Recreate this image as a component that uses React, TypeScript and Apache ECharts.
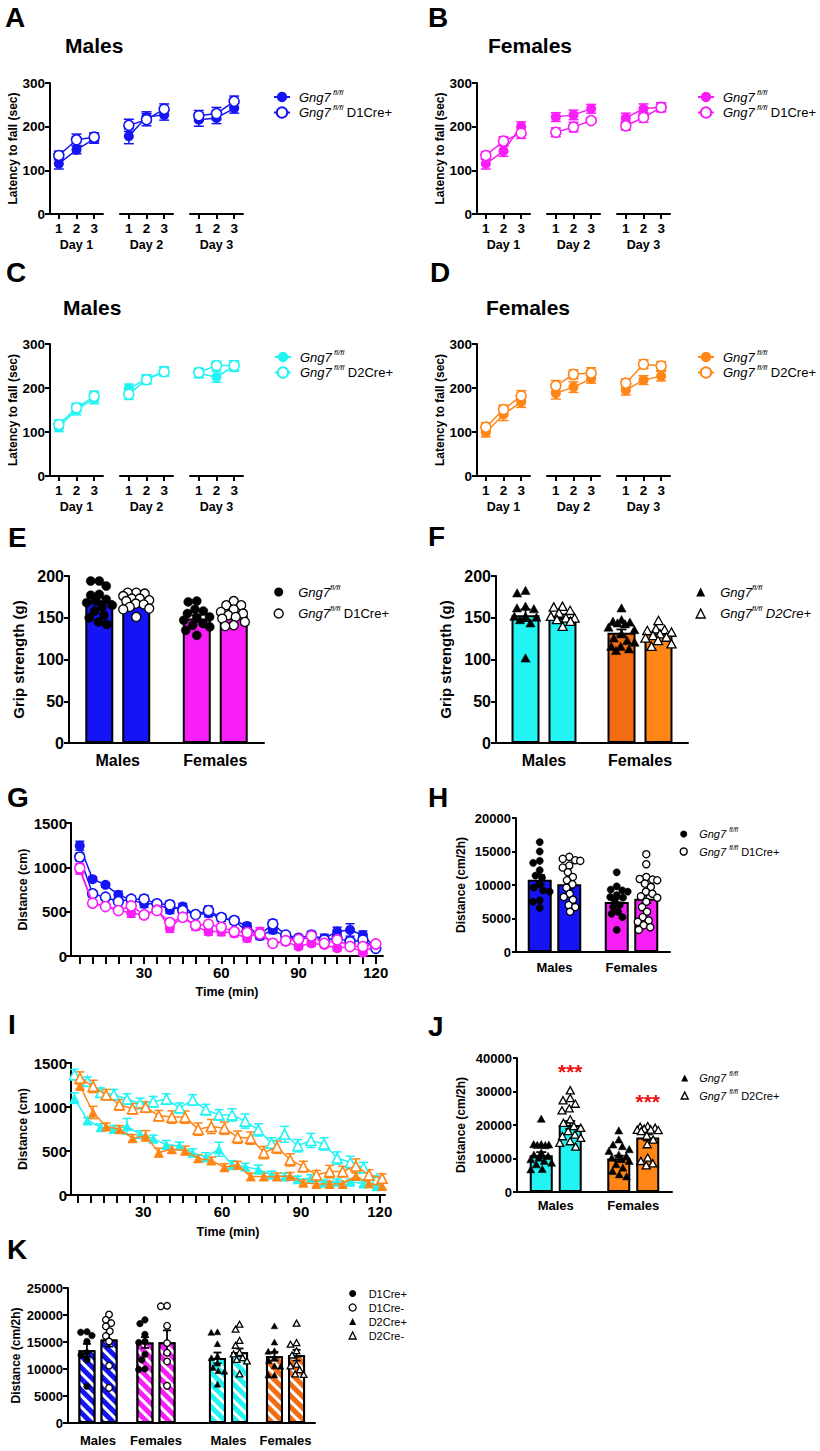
import React, { useEffect, useRef } from 'react';
import * as echarts from 'echarts';

const FONT = '"Liberation Sans", Arial, Helvetica, sans-serif';
const BLACK = '#000000';
const BLUE = '#1414f5';
const MAGENTA = '#f81ef8';
const CYAN = '#22f3f3';
const ORANGE = '#ff8616';
const ORANGE_DK = '#f26c14';
const RED = '#f01010';

// ---------- categories ----------
const TRIALS = ['1', '2', '3'];
const DAYS = ['Day 1', 'Day 2', 'Day 3'];
const SEXES = ['Males', 'Females'];
const TIMES = [5, 10, 15, 20, 25, 30, 35, 40, 45, 50, 55, 60, 65, 70, 75, 80, 85, 90, 95, 100, 105, 110, 115, 120];
const TIME_LABELS = [30, 60, 90, 120];

// ---------- A: rotarod, males, D1 (rows = days, cols = trials) ----------
const A_FL = [[115, 147, 172], [178, 222, 227], [216, 220, 242]];
const A_FL_SEM = [[12, 9, 10], [17, 12, 12], [15, 13, 11]];
const A_CRE = [[134, 170, 176], [203, 216, 240], [225, 230, 258]];
const A_CRE_SEM = [[10, 13, 10], [14, 14, 12], [12, 14, 12]];
// ---------- B: rotarod, females, D1 ----------
const B_FL = [[115, 144, 201], [222, 227, 241], [220, 241, 245]];
const B_FL_SEM = [[12, 12, 10], [10, 11, 10], [11, 11, 10]];
const B_CRE = [[134, 167, 185], [187, 199, 214], [202, 221, 244]];
const B_CRE_SEM = [[9, 10, 12], [10, 11, 6], [10, 11, 10]];
// ---------- C: rotarod, males, D2 ----------
const C_FL = [[111, 151, 176], [199, 220, 238], [233, 225, 250]];
const C_FL_SEM = [[10, 12, 12], [10, 10, 10], [10, 12, 12]];
const C_CRE = [[117, 155, 181], [186, 219, 237], [235, 251, 251]];
const C_CRE_SEM = [[10, 10, 12], [12, 10, 10], [10, 10, 10]];
// ---------- D: rotarod, females, D2 ----------
const D_FL = [[99, 140, 168], [188, 202, 221], [195, 218, 227]];
const D_FL_SEM = [[10, 14, 12], [13, 12, 10], [11, 10, 11]];
const D_CRE = [[111, 151, 182], [205, 231, 234], [211, 254, 250]];
const D_CRE_SEM = [[10, 10, 12], [12, 10, 12], [10, 10, 10]];

// ---------- E: grip strength, D1 ----------
const E_FL_MEAN = [171, 149];
const E_FL_SEM = [4, 4];
const E_CRE_MEAN = [170, 152];
const E_CRE_SEM = [2.5, 3.5];
const E_FL_PTS = [
  [194, 194, 188, 178, 177, 172, 170, 168, 165, 163, 158, 153, 150, 145, 142],
  [170, 169, 160, 158, 155, 151, 150, 147, 143, 141, 139, 135, 129],
];
const E_CRE_PTS = [
  [180, 180, 179, 176, 173, 173, 171, 170, 167, 166, 163, 161, 160, 151],
  [170, 165, 165, 160, 157, 155, 153, 151, 149, 145, 141, 140],
];
// ---------- F: grip strength, D2 ----------
const F_FL_MEAN = [153, 132];
const F_FL_SEM = [7, 4];
const F_CRE_MEAN = [151, 131];
const F_CRE_SEM = [3, 3];
const F_FL_PTS = [
  [182, 179, 163, 161, 160, 151, 151, 150, 147, 143, 101],
  [161, 147, 145, 144, 143, 142, 138, 135, 130, 125, 122, 120, 115, 115, 112, 110],
];
const F_CRE_PTS = [
  [163, 162, 158, 155, 151, 149, 149, 147, 145, 139],
  [146, 136, 135, 134, 132, 130, 128, 126, 125, 122, 118, 115],
];

// ---------- G: open field time course, D1 (cm per 5 min) ----------
const G_M_FL = [1244, 867, 803, 690, 633, 588, 588, 520, 558, 464, 482, 426, 400, 339, 226, 294, 219, 181, 219, 200, 275, 294, 237, 87];
const G_M_FL_SEM = [50, 25, 25, 40, 35, 40, 30, 40, 35, 30, 40, 35, 30, 35, 40, 40, 25, 30, 40, 45, 50, 70, 45, 20];
const G_M_CRE = [1116, 701, 663, 614, 641, 641, 588, 577, 513, 467, 513, 433, 400, 275, 237, 362, 237, 200, 237, 181, 200, 162, 181, 87];
const G_M_CRE_SEM = [45, 30, 25, 30, 35, 45, 30, 45, 35, 30, 50, 40, 40, 30, 40, 45, 25, 35, 40, 30, 35, 40, 40, 25];
const G_F_FL = [973, 596, 565, 520, 482, 464, 528, 313, 445, 332, 275, 275, 256, 200, 275, 143, 162, 106, 143, 124, 87, 106, 38, 124];
const G_F_FL_SEM = [50, 35, 30, 35, 45, 35, 35, 45, 40, 40, 40, 45, 40, 40, 45, 30, 35, 30, 35, 30, 30, 30, 30, 25];
const G_F_CRE = [991, 596, 558, 513, 565, 464, 513, 377, 437, 347, 358, 324, 275, 264, 249, 143, 173, 188, 226, 143, 181, 106, 106, 136];
const G_F_CRE_SEM = [50, 35, 30, 35, 40, 35, 35, 40, 40, 40, 40, 40, 35, 35, 40, 30, 35, 35, 35, 30, 30, 30, 30, 25];

// ---------- H: total distance, D1 ----------
const H_FL_MEAN = [10800, 7460];
const H_FL_SEM = [700, 500];
const H_CRE_MEAN = [10100, 7960];
const H_CRE_SEM = [600, 650];
const H_FL_PTS = [
  [16400, 15000, 13600, 13300, 12200, 11400, 11100, 10100, 9600, 9200, 9000, 7700, 7500, 6600],
  [11900, 9800, 9300, 9200, 9000, 8500, 8200, 8100, 7700, 7000, 6700, 6000, 5700, 5200, 3300],
];
const H_CRE_PTS = [
  [14200, 13900, 13700, 13600, 12900, 12600, 11900, 11200, 10700, 10100, 9600, 8700, 8200, 7800, 7000, 6700, 6000],
  [14600, 13100, 11200, 10900, 10800, 10700, 10200, 9700, 9000, 8700, 8300, 8100, 7500, 6700, 6000, 5200, 4700, 4500, 4000, 3700, 3300],
];

// ---------- I: open field time course, D2 ----------
const I_SHIFT_M = -1.2; // minutes: males plotted slightly left of each bin
const I_SHIFT_F = 0.9;  // females plotted slightly right
const I_M_FL = [1101, 847, 770, 750, 780, 690, 640, 570, 560, 480, 430, 520, 340, 320, 290, 230, 210, 180, 190, 140, 150, 150, 130, 100];
const I_M_FL_SEM = [60, 30, 40, 40, 90, 40, 40, 50, 40, 45, 50, 80, 50, 40, 50, 40, 40, 35, 40, 30, 30, 30, 30, 25];
const I_M_CRE = [1367, 1291, 1166, 1140, 1090, 1040, 1060, 1090, 990, 1080, 970, 910, 910, 840, 740, 590, 690, 560, 620, 580, 420, 370, 310, 175];
const I_M_CRE_SEM = [60, 50, 50, 60, 60, 60, 60, 60, 55, 60, 60, 60, 70, 80, 70, 60, 90, 70, 80, 70, 70, 70, 60, 40];
const I_F_FL = [1242, 938, 778, 748, 646, 672, 482, 520, 505, 418, 391, 315, 342, 209, 209, 209, 216, 140, 125, 125, 125, 216, 133, 103];
const I_F_FL_SEM = [50, 70, 40, 40, 40, 60, 50, 40, 50, 40, 40, 40, 40, 40, 40, 40, 40, 30, 30, 30, 30, 40, 40, 30];
const I_F_CRE = [1329, 1234, 1139, 1025, 980, 999, 900, 885, 885, 748, 778, 759, 657, 646, 482, 543, 399, 323, 228, 266, 266, 330, 228, 190];
const I_F_CRE_SEM = [70, 70, 60, 60, 60, 60, 60, 70, 70, 70, 80, 70, 70, 70, 70, 70, 70, 60, 50, 70, 60, 80, 60, 50];

// ---------- J: total distance, D2 ----------
const J_FL_MEAN = [11000, 10000];
const J_FL_SEM = [900, 850];
const J_CRE_MEAN = [20000, 16300];
const J_CRE_SEM = [1200, 900];
const J_SIG = ['***', '***'];
const J_FL_PTS = [
  [21700, 14100, 14100, 14000, 13900, 13800, 11600, 11000, 10600, 10100, 9600, 9100, 8600, 8100, 6700, 6600],
  [18200, 15500, 14000, 13500, 12600, 12100, 11000, 10600, 10100, 9600, 9100, 8100, 7100, 6100, 5100, 4500],
];
const J_CRE_PTS = [
  [30200, 27900, 27200, 26200, 24800, 24200, 21500, 20500, 19500, 19000, 18000, 17000, 16500, 16000, 15000, 14500, 13400],
  [19500, 19300, 19000, 18700, 18500, 18400, 18300, 18000, 16700, 15500, 14100, 10100, 9100, 8400, 7800],
];

// ---------- K: Cre+ vs Cre- (D1 males, D1 females, D2 males, D2 females) ----------
const K_POS_MEAN = [13450, 14900, 12050, 12350];
const K_POS_SEM = [1200, 1000, 1000, 800];
const K_NEG_MEAN = [15450, 14950, 13100, 12550];
const K_NEG_SEM = [1300, 2200, 700, 1000];
const K_POS_PTS = [
  [16900, 16800, 16200, 15100, 13000, 12600, 11700, 6800],
  [19100, 18400, 16400, 15100, 14900, 12700, 11700, 10000, 9900],
  [16800, 16700, 14600, 12300, 12000, 11000, 10200, 9600, 9500, 7100],
  [17900, 14900, 13300, 13200, 12000, 11500, 10500, 10400, 8800, 8800],
];
const K_NEG_PTS = [
  [20100, 19100, 18500, 17900, 17000, 16100, 15100, 10600, 6500],
  [21700, 21600, 18000, 14800, 13000, 11400, 6900],
  [18200, 17300, 15200, 14300, 13000, 12700, 12000, 11700, 11400, 9000],
  [18400, 14800, 14500, 13300, 12500, 10800, 10500, 9800, 9000, 8900],
];

// ---------- legend texts ----------
const LEG: Record<string, string> = {
  A_fl: '{it|Gng7}{sup| fl/fl}',
  A_cre: '{it|Gng7}{sup| fl/fl}{n| D1Cre+}',
  B_fl: '{it|Gng7}{sup| fl/fl}',
  B_cre: '{it|Gng7}{sup| fl/fl}{n| D1Cre+}',
  C_fl: '{it|Gng7}{sup| fl/fl}',
  C_cre: '{it|Gng7}{sup| fl/fl}{n| D2Cre+}',
  D_fl: '{it|Gng7}{sup| fl/fl}',
  D_cre: '{it|Gng7}{sup| fl/fl}{n| D2Cre+}',
  E_fl: '{it|Gng7}{sup|fl/fl}',
  E_cre: '{it|Gng7}{sup|fl/fl}{n| D1Cre+}',
  F_fl: '{it|Gng7}{sup|fl/fl}',
  F_cre: '{it|Gng7}{sup|fl/fl}{it| D2Cre+}',
  H_fl: '{it|Gng7 }{sup|fl/fl}',
  H_cre: '{it|Gng7 }{sup|fl/fl}{n| D1Cre+}',
  J_fl: '{it|Gng7 }{sup|fl/fl}',
  J_cre: '{it|Gng7 }{sup|fl/fl}{n| D2Cre+}',
};

const AXLINE = { show: true, onZero: false, lineStyle: { color: BLACK, width: 2 } };
const tk = (length: number) => ({ show: true, length, inside: false, lineStyle: { color: BLACK, width: 2 } });
const txt = (fontSize: number, extra: any = {}) => ({ color: BLACK, fontFamily: FONT, fontWeight: 'bold', fontSize, ...extra });
const plain = (v: number) => String(v);
const rich = (s: number, lead: number) => ({
  g: { width: lead, fontSize: s, lineHeight: s + 5 },
  it: { fontFamily: FONT, fontSize: s, fontStyle: 'italic', color: BLACK, lineHeight: s + 5, verticalAlign: 'middle' },
  n: { fontFamily: FONT, fontSize: s, color: BLACK, lineHeight: s + 5, verticalAlign: 'middle' },
  sup: { fontFamily: FONT, fontSize: Math.round(s * 0.62), fontStyle: 'italic', color: BLACK, lineHeight: Math.round(s * 0.62) + 1, verticalAlign: 'top' },
});

function swarm(ys: number[], d: number, half: number): number[] {
  const order = ys.map((_, i) => i).sort((a, b) => ys[a] - ys[b]);
  const placed: number[][] = [];
  const out: number[] = ys.map(() => 0);
  for (const i of order) {
    const y = ys[i];
    const blocks: number[][] = [];
    placed.forEach(([px, py]) => {
      const dy = Math.abs(py - y);
      if (dy < d) {
        const w = Math.sqrt(d * d - dy * dy);
        blocks.push([px - w, px + w]);
      }
    });
    const free = (c: number) => blocks.every(([a, b]) => c <= a + 0.01 || c >= b - 0.01);
    const cands = [0];
    blocks.forEach(([a, b]) => cands.push(a, b));
    cands.sort((a, b) => Math.abs(a) - Math.abs(b));
    let best: number | null = null;
    for (const c of cands) {
      if (Math.abs(c) <= half && free(c)) { best = c; break; }
    }
    if (best === null) {
      let bestScore = -1;
      best = 0;
      for (let c = -half; c <= half + 0.001; c += 0.5) {
        let m = Infinity;
        placed.forEach(([px, py]) => { m = Math.min(m, Math.hypot(px - c, py - y)); });
        if (m > bestScore) { bestScore = m; best = c; }
      }
    }
    out[i] = best as number;
    placed.push([best as number, y]);
  }
  return out;
}

function shapeEl(kind: string, x: number, y: number, r: number, filled: boolean) {
  const style = filled
    ? { fill: BLACK, stroke: BLACK, lineWidth: 0.5 }
    : { fill: '#ffffff', stroke: BLACK, lineWidth: 1.3 };
  if (kind === 'triangle') {
    return { type: 'polygon', shape: { points: [[x, y - r * 1.05], [x - r, y + r * 0.75], [x + r, y + r * 0.75]] }, style };
  }
  return { type: 'circle', shape: { cx: x, cy: y, r }, style };
}

function buildOption() {
  const grid: any[] = [];
  const xAxis: any[] = [];
  const yAxis: any[] = [];
  const series: any[] = [];
  const legend: any[] = [];
  const graphic: any[] = [];

  const addGrid = (left: number, top: number, width: number, height: number) => {
    grid.push({ left, top, width, height, containLabel: false, outerBoundsMode: 'none' });
    return grid.length - 1;
  };
  const addX = (o: any) => { xAxis.push(o); return xAxis.length - 1; };
  const addY = (o: any) => { yAxis.push(o); return yAxis.length - 1; };
  const valY = (g: number, max: number, interval: number, o: any) => addY({
    gridIndex: g, type: 'value', min: 0, max, interval, show: o.show !== false,
    splitLine: { show: false },
    axisLine: AXLINE, axisTick: tk(o.tick ?? 5),
    axisLabel: { ...txt(o.size ?? 13), margin: o.margin ?? 5, formatter: plain },
    name: o.name || '', nameLocation: 'middle', nameGap: o.gap ?? 30, nameTextStyle: txt(o.nameSize ?? 12),
  });

  const addErr = (xi: number, yi: number, data: number[][], offset: number, color: string, cap: number, lw: number, z = 4) => {
    series.push({
      type: 'custom', xAxisIndex: xi, yAxisIndex: yi, data, z, silent: true, encode: { x: 0, y: 1 },
      renderItem: (_p: any, api: any) => {
        const x = api.value(0); const m = api.value(1); const s = api.value(2);
        const a = api.coord([x, m + s]);
        const b = api.coord([x, m - s]);
        const cx = a[0] + offset;
        const st = { stroke: color, lineWidth: lw };
        return {
          type: 'group',
          children: [
            { type: 'line', shape: { x1: cx, y1: a[1], x2: cx, y2: b[1] }, style: st },
            { type: 'line', shape: { x1: cx - cap, y1: a[1], x2: cx + cap, y2: a[1] }, style: st },
            { type: 'line', shape: { x1: cx - cap, y1: b[1], x2: cx + cap, y2: b[1] }, style: st },
          ],
        };
      },
    });
  };

  const addDots = (xi: number, yi: number, groups: number[][], offset: number, kind: string, filled: boolean, r: number, half: number) => {
    const data: number[][] = [];
    groups.forEach((g, c) => g.forEach((v, k) => data.push([c, v, k])));
    const layouts: Record<number, number[]> = {};
    series.push({
      type: 'custom', xAxisIndex: xi, yAxisIndex: yi, data, z: 6, silent: true, encode: { x: 0, y: 1 },
      renderItem: (_p: any, api: any) => {
        const c = api.value(0); const v = api.value(1); const k = api.value(2);
        const p = api.coord([c, v]);
        if (!layouts[c]) layouts[c] = swarm(groups[c].map((val) => api.coord([c, val])[1]), 2 * r * 0.95, half);
        return shapeEl(kind, p[0] + offset + layouts[c][k], p[1], r, filled);
      },
    });
  };

  const addLegend = (left: number, top: number, data: any[], size: number, itemWidth: number, itemHeight: number, itemGap: number, lead: number, fmt?: (n: string) => string) => {
    legend.push({
      show: true, orient: 'vertical', left, top, padding: 0, itemWidth, itemHeight, itemGap,
      selectedMode: false, data, symbolKeepAspect: true,
      formatter: (n: string) => `{g| }${fmt ? fmt(n) : (LEG[n] ?? n)}`,
      textStyle: { fontFamily: FONT, fontSize: size, color: BLACK, rich: rich(size, lead) },
    });
  };

  // ---------- rotarod panels ----------
  const rotarod = (p: any) => {
    p.segLefts.forEach((left: number, d: number) => {
      const g = addGrid(left, p.top, 53, p.height);
      const xi = addX({
        gridIndex: g, type: 'category', data: TRIALS, boundaryGap: true,
        axisLine: AXLINE, axisTick: { ...tk(5), alignWithLabel: true },
        axisLabel: { ...txt(13.5), margin: 7, interval: 0 },
        name: DAYS[d], nameLocation: 'middle', nameGap: 24, nameTextStyle: txt(12.5),
      });
      const yi = valY(g, 300, 100, {
        show: d === 0, name: d === 0 ? 'Latency to fall (sec)' : '', gap: 31, nameSize: 12, size: 13.5, margin: 5, tick: 5,
      });
      addErr(xi, yi, p.fl[d].map((v: number, k: number) => [k, v, p.flSem[d][k]]), 0, p.color, 5, 1.5);
      addErr(xi, yi, p.cre[d].map((v: number, k: number) => [k, v, p.creSem[d][k]]), 0, p.color, 5, 1.5);
      series.push({
        type: 'line', name: p.id + '_fl', xAxisIndex: xi, yAxisIndex: yi, data: p.fl[d],
        symbol: 'circle', symbolSize: 10, itemStyle: { color: p.color }, lineStyle: { color: p.color, width: 1.5 }, z: 5, silent: true,
      });
      series.push({
        type: 'line', name: p.id + '_cre', xAxisIndex: xi, yAxisIndex: yi, data: p.cre[d],
        symbol: 'circle', symbolSize: 10, itemStyle: { color: '#ffffff', borderColor: p.color, borderWidth: 1.6 },
        lineStyle: { color: p.color, width: 1.5 }, z: 6, silent: true,
      });
    });
    addLegend(p.legendLeft, p.legendTop, [p.id + '_fl', p.id + '_cre'], 13, 16, 13, 0, 4);
  };

  rotarod({ id: 'A', segLefts: [50, 120, 190], top: 83, height: 131, fl: A_FL, flSem: A_FL_SEM, cre: A_CRE, creSem: A_CRE_SEM, color: BLUE, legendLeft: 273, legendTop: 88 });
  rotarod({ id: 'B', segLefts: [477, 547, 617], top: 83, height: 131, fl: B_FL, flSem: B_FL_SEM, cre: B_CRE, creSem: B_CRE_SEM, color: MAGENTA, legendLeft: 697, legendTop: 88 });
  rotarod({ id: 'C', segLefts: [50, 120, 190], top: 344, height: 132, fl: C_FL, flSem: C_FL_SEM, cre: C_CRE, creSem: C_CRE_SEM, color: CYAN, legendLeft: 274, legendTop: 348 });
  rotarod({ id: 'D', segLefts: [477, 547, 617], top: 344, height: 132, fl: D_FL, flSem: D_FL_SEM, cre: D_CRE, creSem: D_CRE_SEM, color: ORANGE, legendLeft: 697, legendTop: 348 });

  // ---------- bar + dot panels ----------
  const barPanel = (p: any) => {
    const g = addGrid(p.left, p.top, p.width, p.height);
    const xi = addX({
      gridIndex: g, type: 'category', data: SEXES,
      axisLine: AXLINE, axisTick: { show: false },
      axisLabel: { ...txt(p.catSize), margin: p.catMargin, interval: 0 },
    });
    const yi = valY(g, p.max, p.interval, { name: p.yName, gap: p.nameGap, nameSize: p.nameSize, size: p.tickSize, margin: p.tickMargin, tick: p.tick });
    const off = (p.barWidth * (1 + p.gap)) / 2;
    series.push({
      type: 'bar', name: p.id + '_fl', xAxisIndex: xi, yAxisIndex: yi, barWidth: p.barWidth, barGap: `${p.gap * 100}%`,
      data: p.meanFl.map((v: number, c: number) => ({ value: v, itemStyle: { color: p.colFl[c], borderColor: BLACK, borderWidth: 2 } })),
      z: 2, silent: true,
    });
    series.push({
      type: 'bar', name: p.id + '_cre', xAxisIndex: xi, yAxisIndex: yi, barWidth: p.barWidth, barGap: `${p.gap * 100}%`,
      data: p.meanCre.map((v: number, c: number) => ({
        value: v,
        itemStyle: { color: p.colCre[c], borderColor: BLACK, borderWidth: 2 },
        label: p.sig ? { show: true, position: 'top', distance: p.sigDist[c], formatter: p.sig[c], color: RED, fontSize: 21, fontWeight: 'bold', fontFamily: FONT } : { show: false },
      })),
      z: 2, silent: true,
    });
    addErr(xi, yi, p.meanFl.map((v: number, c: number) => [c, v, p.semFl[c]]), -off, BLACK, p.cap, 1.8);
    addErr(xi, yi, p.meanCre.map((v: number, c: number) => [c, v, p.semCre[c]]), off, BLACK, p.cap, 1.8);
    addDots(xi, yi, p.ptsFl, -off, p.kind, true, p.r, p.barWidth / 2 - 1);
    addDots(xi, yi, p.ptsCre, off, p.kind, false, p.r, p.barWidth / 2 - 1);
    const icon = p.kind === 'triangle' ? 'triangle' : 'circle';
    addLegend(p.legLeft, p.legTop, [
      { name: p.id + '_fl', icon, itemStyle: { color: BLACK, borderWidth: 0 } },
      { name: p.id + '_cre', icon, itemStyle: { color: '#ffffff', borderColor: BLACK, borderWidth: 1.4 } },
    ], p.legSize, p.legItem, p.legItem, p.legGap, p.legLead);
  };

  barPanel({
    id: 'E', left: 69, top: 576, width: 195, height: 167, max: 200, interval: 50, yName: 'Grip strength (g)',
    nameGap: 43, nameSize: 15, tickSize: 16, tickMargin: 5, tick: 5, catSize: 16, catMargin: 9,
    barWidth: 28, gap: 0.32, cap: 5, r: 4.5, kind: 'circle',
    colFl: [BLUE, MAGENTA], colCre: [BLUE, MAGENTA],
    meanFl: E_FL_MEAN, semFl: E_FL_SEM, meanCre: E_CRE_MEAN, semCre: E_CRE_SEM, ptsFl: E_FL_PTS, ptsCre: E_CRE_PTS,
    legLeft: 273.5, legTop: 583, legSize: 13, legItem: 9, legGap: 6, legLead: 10,
  });
  barPanel({
    id: 'F', left: 496, top: 576, width: 192, height: 167, max: 200, interval: 50, yName: 'Grip strength (g)',
    nameGap: 43, nameSize: 15, tickSize: 16, tickMargin: 5, tick: 5, catSize: 16, catMargin: 9,
    barWidth: 28, gap: 0.32, cap: 5, r: 4.6, kind: 'triangle',
    colFl: [CYAN, ORANGE_DK], colCre: [CYAN, ORANGE],
    meanFl: F_FL_MEAN, semFl: F_FL_SEM, meanCre: F_CRE_MEAN, semCre: F_CRE_SEM, ptsFl: F_FL_PTS, ptsCre: F_CRE_PTS,
    legLeft: 695.5, legTop: 583, legSize: 13, legItem: 9, legGap: 6, legLead: 10,
  });
  barPanel({
    id: 'H', left: 516, top: 818, width: 154, height: 134, max: 20000, interval: 5000, yName: 'Distance (cm/2h)',
    nameGap: 49, nameSize: 12, tickSize: 13, tickMargin: 5, tick: 4, catSize: 13, catMargin: 9,
    barWidth: 24, gap: 0.23, cap: 5, r: 3.6, kind: 'circle',
    colFl: [BLUE, MAGENTA], colCre: [BLUE, MAGENTA],
    meanFl: H_FL_MEAN, semFl: H_FL_SEM, meanCre: H_CRE_MEAN, semCre: H_CRE_SEM, ptsFl: H_FL_PTS, ptsCre: H_CRE_PTS,
    legLeft: 679.5, legTop: 826, legSize: 11, legItem: 7, legGap: 4, legLead: 7,
  });
  barPanel({
    id: 'J', left: 517, top: 1058, width: 155, height: 134, max: 40000, interval: 10000, yName: 'Distance (cm/2h)',
    nameGap: 50, nameSize: 12, tickSize: 13, tickMargin: 5, tick: 4, catSize: 13, catMargin: 7,
    barWidth: 23, gap: 0.26, cap: 5, r: 4, kind: 'triangle',
    colFl: [CYAN, ORANGE], colCre: [CYAN, ORANGE],
    meanFl: J_FL_MEAN, semFl: J_FL_SEM, meanCre: J_CRE_MEAN, semCre: J_CRE_SEM, ptsFl: J_FL_PTS, ptsCre: J_CRE_PTS,
    sig: J_SIG, sigDist: [43, 25],
    legLeft: 680.5, legTop: 1070, legSize: 11, legItem: 7, legGap: 4, legLead: 6,
  });

  // ---------- time-course panels ----------
  const timePanel = (p: any) => {
    const g = addGrid(p.left, p.top, p.width, p.height);
    const xi = addX({
      gridIndex: g, type: 'value', min: p.xmin, max: p.xmax, splitLine: { show: false },
      axisLine: AXLINE, axisTick: { ...tk(8), customValues: TIMES },
      axisLabel: { ...txt(15), margin: 9, customValues: TIME_LABELS, formatter: plain },
      name: 'Time (min)', nameLocation: 'middle', nameGap: p.nameGapX, nameTextStyle: txt(12.5),
    });
    const yi = valY(g, 1500, 500, { name: 'Distance (cm)', gap: 41, nameSize: 12.5, size: 15, margin: 4, tick: 5 });
    p.lines.forEach((l: any) => {
      const pts = TIMES.map((t, i) => [t + l.shift, l.vals[i]]);
      addErr(xi, yi, TIMES.map((t, i) => [t + l.shift, l.vals[i], l.sem[i]]), 0, l.color, 4.5, 1.5, 3);
      series.push({
        type: 'line', xAxisIndex: xi, yAxisIndex: yi, data: pts, symbol: l.symbol, symbolSize: 10, silent: true, z: l.z,
        itemStyle: l.open ? { color: '#ffffff', borderColor: l.color, borderWidth: 1.6 } : { color: l.color },
        lineStyle: { color: l.color, width: 1.5 },
      });
    });
  };

  timePanel({
    left: 71, top: 823, width: 312, height: 133, xmin: 1.6, xmax: 122.8, nameGapX: 29,
    lines: [
      { vals: G_M_FL, sem: G_M_FL_SEM, color: BLUE, open: false, symbol: 'circle', shift: 0, z: 5 },
      { vals: G_M_CRE, sem: G_M_CRE_SEM, color: BLUE, open: true, symbol: 'circle', shift: 0, z: 6 },
      { vals: G_F_FL, sem: G_F_FL_SEM, color: MAGENTA, open: false, symbol: 'circle', shift: 0, z: 7 },
      { vals: G_F_CRE, sem: G_F_CRE_SEM, color: MAGENTA, open: true, symbol: 'circle', shift: 0, z: 8 },
    ],
  });
  timePanel({
    left: 71, top: 1063, width: 314, height: 132, xmin: 2.5, xmax: 122, nameGapX: 30,
    lines: [
      { vals: I_M_FL, sem: I_M_FL_SEM, color: CYAN, open: false, symbol: 'triangle', shift: I_SHIFT_M, z: 5 },
      { vals: I_M_CRE, sem: I_M_CRE_SEM, color: CYAN, open: true, symbol: 'triangle', shift: I_SHIFT_M, z: 6 },
      { vals: I_F_FL, sem: I_F_FL_SEM, color: ORANGE, open: false, symbol: 'triangle', shift: I_SHIFT_F, z: 7 },
      { vals: I_F_CRE, sem: I_F_CRE_SEM, color: ORANGE, open: true, symbol: 'triangle', shift: I_SHIFT_F, z: 8 },
    ],
  });

  // ---------- K ----------
  const gK = addGrid(68, 1288, 247, 135);
  addX({ gridIndex: gK, type: 'value', min: 0, max: 1, axisLine: AXLINE, axisTick: { show: false }, axisLabel: { show: false }, splitLine: { show: false } });
  valY(gK, 25000, 5000, { name: 'Distance (cm/2h)', gap: 46, nameSize: 12, size: 13, margin: 5, tick: 5 });
  const kPart = (left: number, width: number, from: number, cols: string[], ids: string[]) => {
    const g = addGrid(left, 1288, width, 135);
    const xi = addX({
      gridIndex: g, type: 'category', data: SEXES, axisLine: { show: false }, axisTick: { show: false },
      axisLabel: { ...txt(13), margin: 11, interval: 0 },
    });
    const yi = valY(g, 25000, 5000, { show: false });
    const bw = 17; const gap = 0.3; const off = (bw * (1 + gap)) / 2;
    const decal = { symbol: 'rect', symbolSize: 1, color: '#ffffff', dashArrayX: [1, 0], dashArrayY: [3, 5], rotation: Math.PI / 4 };
    const pos = K_POS_MEAN.slice(from, from + 2);
    const neg = K_NEG_MEAN.slice(from, from + 2);
    series.push({
      type: 'bar', name: ids[0], xAxisIndex: xi, yAxisIndex: yi, barWidth: bw, barGap: `${gap * 100}%`, silent: true, z: 2,
      data: pos.map((v, c) => ({ value: v, itemStyle: { color: cols[c], borderColor: BLACK, borderWidth: 2, decal } })),
    });
    series.push({
      type: 'bar', name: ids[1], xAxisIndex: xi, yAxisIndex: yi, barWidth: bw, barGap: `${gap * 100}%`, silent: true, z: 2,
      data: neg.map((v, c) => ({ value: v, itemStyle: { color: cols[c], borderColor: BLACK, borderWidth: 2, decal } })),
    });
    addErr(xi, yi, pos.map((v, c) => [c, v, K_POS_SEM[from + c]]), -off, BLACK, 4, 1.8);
    addErr(xi, yi, neg.map((v, c) => [c, v, K_NEG_SEM[from + c]]), off, BLACK, 4, 1.8);
    const kind = from === 0 ? 'circle' : 'triangle';
    addDots(xi, yi, K_POS_PTS.slice(from, from + 2), -off, kind, true, 3.3, 7.5);
    addDots(xi, yi, K_NEG_PTS.slice(from, from + 2), off, kind, false, 3.3, 7.5);
  };
  kPart(69, 116, 0, [BLUE, MAGENTA], ['D1Cre+', 'D1Cre-']);
  kPart(200, 114, 2, [CYAN, ORANGE_DK], ['D2Cre+', 'D2Cre-']);
  addLegend(348.5, 1288, [
    { name: 'D1Cre+', icon: 'circle', itemStyle: { color: BLACK, borderWidth: 0, decal: 'none' } },
    { name: 'D1Cre-', icon: 'circle', itemStyle: { color: '#ffffff', borderColor: BLACK, borderWidth: 1.3, decal: 'none' } },
    { name: 'D2Cre+', icon: 'triangle', itemStyle: { color: BLACK, borderWidth: 0, decal: 'none' } },
    { name: 'D2Cre-', icon: 'triangle', itemStyle: { color: '#ffffff', borderColor: BLACK, borderWidth: 1.3, decal: 'none' } },
  ], 11, 7, 7, 3, 7.5, (n: string) => `{n|${n}}`);

  // ---------- panel letters & titles ----------
  const letters: [string, number, number][] = [
    ['A', 5, 17], ['B', 428, 17], ['C', 6, 272], ['D', 430, 272], ['E', 8, 537], ['F', 428, 536],
    ['G', 7, 797], ['H', 428, 797], ['I', 8, 1024], ['J', 428, 1026], ['K', 7, 1249],
  ];
  letters.forEach(([t, x, y]) => graphic.push({
    type: 'text', x, y, silent: true,
    style: { text: t, fill: BLACK, fontFamily: FONT, fontWeight: 'bold', fontSize: 28, align: 'left', verticalAlign: 'middle', textAlign: 'left', textVerticalAlign: 'middle' },
  }));
  const titles: [string, number, number][] = [['Males', 65, 45], ['Females', 488, 45], ['Males', 63, 307], ['Females', 486, 307]];
  titles.forEach(([t, x, y]) => graphic.push({
    type: 'text', x, y, silent: true,
    style: { text: t, fill: BLACK, fontFamily: FONT, fontWeight: 'bold', fontSize: 21, align: 'left', verticalAlign: 'middle', textAlign: 'left', textVerticalAlign: 'middle' },
  }));

  return {
    animation: false,
    backgroundColor: '#ffffff',
    textStyle: { fontFamily: FONT },
    tooltip: { show: false },
    grid, xAxis, yAxis, series, legend, graphic,
  };
}

export default function App() {
  const ref = useRef<HTMLDivElement>(null);
  useEffect(() => {
    if (!ref.current) return undefined;
    const chart = echarts.init(ref.current, undefined, { renderer: 'svg' });
    chart.setOption(buildOption() as any);
    return () => chart.dispose();
  }, []);
  return <div ref={ref} style={{ position: 'absolute', left: 0, top: 0, width: 820, height: 1451, background: '#ffffff' }} />;
}
